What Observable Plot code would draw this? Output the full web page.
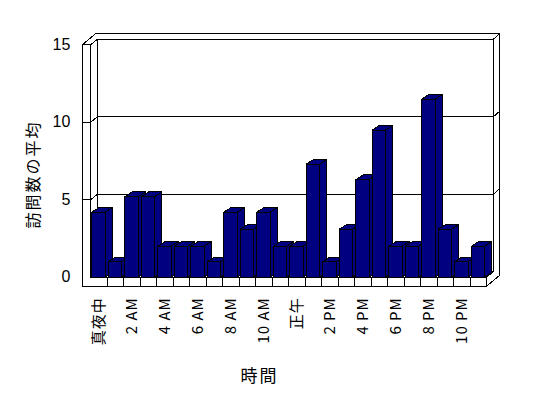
<!DOCTYPE html>
<html>
<head>
<meta charset="utf-8">
<script src="https://cdn.jsdelivr.net/npm/d3@7"></script>
<script src="https://cdn.jsdelivr.net/npm/@observablehq/plot@0.6"></script>
<style>
  html, body { margin: 0; padding: 0; background: #fff; }
  svg { display: block; }
  svg path { shape-rendering: crispEdges; }
</style>
</head>
<body>
<div id="chart"></div>
<script>
// ---- data ----
const hourLabels = ["真夜中","","2 AM","","4 AM","","6 AM","","8 AM","","10 AM","",
                    "正午","","2 PM","","4 PM","","6 PM","","8 PM","","10 PM",""];
const visits = [4.2, 1, 5.2, 5.2, 2, 2, 2, 1, 4.2, 3.1, 4.2, 2,
                2, 7.3, 1, 3.1, 6.3, 9.5, 2, 2, 11.5, 3.1, 1, 2];
const yTicks = [0, 5, 10, 15];
const gridValues = [5, 10];
const yTitle = "訪問数の平均";
const xTitle = "時間";

// ---- geometry (in data units) ----
const N = visits.length, YMAX = 15;
const PXX = 16.5, PXY = 15.49;              // px per category / per unit
const BAR_OFF = 0.07, BAR_W = 13.3 / PXX;    // bar front face
const BDX = 7.3 / PXX, BDY = 4.7 / PXY;      // bar depth
const WALL = -8.3 / PXX;                     // left wall thickness
const FLOOR = -9 / PXY;                      // floor thickness
const DXi = 6.6 / PXX, DYi = 5.5 / PXY;      // back wall inner plane
const DXo = 13 / PXX, DYo = 11 / PXY;        // back wall outer plane

const faces = [];
function poly(id, pts) {
  pts.concat([pts[0]]).forEach(([x, y]) => faces.push({id, x, y}));
}
visits.forEach((v, i) => {
  const x0 = i + BAR_OFF, x1 = x0 + BAR_W;
  poly("s" + i, [[x1, 0], [x1 + BDX, BDY], [x1 + BDX, v + BDY], [x1, v]]);
  poly("t" + i, [[x0, v], [x1, v], [x1 + BDX, v + BDY], [x0 + BDX, v + BDY]]);
  poly("f" + i, [[x0, 0], [x1, 0], [x1, v], [x0, v]]);
});

const segs = [];
let sid = 0;
function seg(pts) { const id = sid++; pts.forEach(([x, y]) => segs.push({id, x, y})); }
// left wall
seg([[WALL, FLOOR], [WALL, YMAX], [0, YMAX], [0, 0]]);
seg([[WALL, YMAX], [WALL + DXo, YMAX + DYo]]);
seg([[0, YMAX], [DXi, YMAX + DYi]]);
// back wall inner
seg([[DXi, DYi], [DXi, YMAX + DYi], [N + DXi, YMAX + DYi], [N + DXi, DYi], [DXi, DYi]]);
// back wall outer
seg([[WALL + DXo, YMAX + DYo], [N + DXo, YMAX + DYo], [N + DXo, FLOOR + DYo]]);
seg([[N + DXi, YMAX + DYi], [N + DXo, YMAX + DYo]]);
// gridlines
gridValues.forEach(v => {
  seg([[WALL, v], [0, v], [DXi, v + DYi], [N + DXi, v + DYi], [N + DXo, v + DYo]]);
});
// floor
seg([[WALL, FLOOR], [N, FLOOR], [N, 0], [0, 0]]);
for (let i = 1; i < N; i++) seg([[i, 0], [i, FLOOR]]);
seg([[N, FLOOR], [N + DXo, FLOOR + DYo]]);
seg([[N, 0], [N + DXi, DYi]]);

const labelIdx = hourLabels.map((d, i) => i).filter(i => hourLabels[i] !== "");

const font = "'Noto Sans CJK JP', 'DejaVu Sans', sans-serif";

const chart = Plot.plot({
  width: 548,
  height: 398,
  margin: 0,
  style: {fontFamily: font, background: "white", color: "black"},
  x: {type: "linear", domain: [0, N], range: [90.2, 486.2], axis: null},
  y: {type: "linear", domain: [0, YMAX], range: [276.7, 44.3], axis: null},
  marks: [
    Plot.line(segs, {x: "x", y: "y", z: "id", stroke: "black", strokeWidth: 1, curve: "linear"}),
    Plot.line(faces, {x: "x", y: "y", z: "id", fill: "#000080", stroke: "black", strokeWidth: 1, curve: "linear"}),
    Plot.text(yTicks, {x: WALL, y: d => d, text: d => String(d), dx: -12, textAnchor: "end", fontSize: 16, fill: "black", fontFamily: "'Liberation Sans', Arial, sans-serif"}),
    Plot.text(labelIdx, {x: i => i + 0.5, y: 0, text: i => hourLabels[i], rotate: -90, textAnchor: "end", lineAnchor: "middle", dy: 20, fontSize: 15, fill: "black"}),
    Plot.text([yTitle], {frameAnchor: "left", text: d => d, rotate: -90, textAnchor: "middle", lineAnchor: "middle", dx: 33, dy: -25, fontSize: 16, fill: "black"}),
    Plot.text([xTitle], {frameAnchor: "bottom", text: d => d, textAnchor: "middle", lineAnchor: "middle", dx: -15, dy: -22, fontSize: 17, fill: "black"})
  ]
});
document.getElementById("chart").appendChild(chart);
d3.select(chart).selectAll("text").each(function () {
  const t = this.textContent;
  if (t === yTitle || t === xTitle) d3.select(this).style("letter-spacing", "2px");
  else if (/[AP]M|真夜中|正午/.test(t)) d3.select(this).style("letter-spacing", "1px");
});
</script>
</body>
</html>
